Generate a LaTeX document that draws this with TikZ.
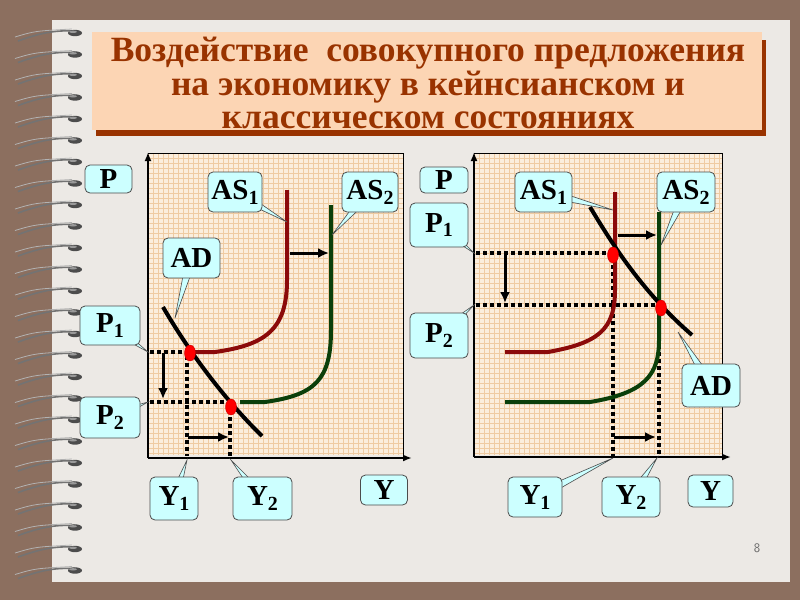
\documentclass[tikz,border=0pt]{standalone}
\usepackage{fontspec}
\setmainfont{Liberation Serif}[BoldFont=Liberation Serif Bold]
\newfontfamily\titlefont{Liberation Serif Bold}
\usetikzlibrary{calc,arrows.meta,shapes.geometric}
\definecolor{bgbrown}{HTML}{8C6F5F}
\definecolor{paper}{HTML}{ECE9E5}
\definecolor{peach}{HTML}{FCD5B4}
\definecolor{titlec}{HTML}{993300}
\definecolor{ascyan}{HTML}{CCFFFF}
\definecolor{asred}{HTML}{8B0A0A}
\definecolor{asgreen}{HTML}{0A3F0A}
\definecolor{gridbg}{HTML}{FBEEDD}
\definecolor{gridln}{HTML}{EFCBA2}
\tikzset{
 calloutbox/.style={draw=black!70,fill=ascyan,rounded corners=5pt,line width=0.8pt,inner sep=0pt,font=\fontsize{29}{29}\selectfont\bfseries},
 calloutptr/.style={draw=black!70,fill=ascyan,line width=0.6pt},
 dotline/.style={line width=3.6pt,dash pattern=on 3.5pt off 3.5pt},
 axisline/.style={line width=2.8pt,-{Latex[length=9pt,width=7pt]}},
 moveline/.style={line width=3pt,-{Latex[length=11pt,width=10pt]}},
 curve/.style={line width=4pt},
 eqpt/.style={fill=red,draw=red!80!black,minimum width=11pt,minimum height=16pt,ellipse,inner sep=0pt},
 gridlines/.style={gridln,line width=0.5pt},
}
% #1 name, #2 x1, #3 y1, #4 x2, #5 y2, #6 tip coordinate name, #7 text
\newcommand\mycallout[7]{%
 \coordinate (#1c) at ({(#2+#4)/2},{(#3+#5)/2});
 \filldraw[calloutptr] (#6) -- ($(#1c)!5pt!90:(#6)$) -- ($(#1c)!5pt!-90:(#6)$) -- cycle;
 \node[calloutbox,minimum width={#4-#2},minimum height={#5-#3}] (#1) at (#1c) {#7};
}
\newcommand\sub[1]{\raisebox{-5pt}{\fontsize{20}{20}\selectfont\bfseries #1}}
% grid helper: #1 x1 #2 y1 #3 x2 #4 y2
\newcommand\mygrid[4]{%
 \fill[gridbg] (#1,#2) rectangle (#3,#4);
 \foreach \gx in {#1,...,#3}{\pgfmathparse{mod(\gx-#1,5)==0}\ifnum\pgfmathresult=1 \draw[gridlines] (\gx,#2) -- (\gx,#4);\fi}
 \foreach \gy in {#2,...,#4}{\pgfmathparse{mod(\gy-#2,5)==0}\ifnum\pgfmathresult=1 \draw[gridlines] (#1,\gy) -- (#3,\gy);\fi}
}
\begin{document}
\begin{tikzpicture}[x=1pt,y=-1pt]
\useasboundingbox (0,0) rectangle (800,600);
\fill[bgbrown] (0,0) rectangle (800,600);
\fill[paper] (52,20) rectangle (790,582);
% spiral rings
\foreach \i in {0,...,25}{
 \pgfmathsetmacro{\yy}{33+21.5*\i}
 \draw[black!55,line width=1.6pt] (18,\yy+8) .. controls (40,\yy) and (55,\yy-3) .. (75,\yy-2);
 \draw[white!70!black,line width=0.8pt] (15,\yy+4) .. controls (35,\yy-2) .. (72,\yy-4);
 \fill[black!70] (75,\yy) ellipse (7pt and 3.2pt);
 \fill[white!60!black] (73,\yy-1.2) ellipse (4pt and 1.2pt);
}
% title
\fill[titlec] (96,40) rectangle (766,136);
\fill[peach] (92,32) rectangle (762,130);
\node[text=titlec,font=\titlefont\fontsize{35.5}{33.5}\selectfont,align=center] (title) at (428,83)
 {Воздействие\ \ совокупного предложения\\на экономику в кейнсианском и\\классическом состояниях};
% ---------- left graph ----------
\mygrid{148}{153}{403}{455}
\draw[black,line width=0.8pt] (148,153) -- (403,153) -- (403,458);
\coordinate (L0) at (148,458);
\coordinate (Ltop) at (148,152);
\coordinate (Lright) at (412,458);
\draw[axisline] (L0) -- (Ltop);
\draw[axisline] (L0) -- (Lright);
\draw[dotline] (150,352) -- (190,352);
\draw[dotline] (150,402) -- (231,402);
\draw[dotline] (187,356) -- (187,456);
\draw[dotline] (230,410) -- (230,456);
\draw[curve,asred] (190,352) -- (215,352) .. controls (265,345) and (287,330) .. (287,280) -- (287,190);
\draw[curve,asgreen] (240,402) -- (265,402) .. controls (315,395) and (331,380) .. (331,330) -- (331,205);
\draw[curve,black] (163,307) .. controls (185,345) and (220,395) .. (262,436);
\node[eqpt] (LE1) at (190,353) {};
\node[eqpt] (LE2) at (231,407) {};
\coordinate (La1) at (163,353); \coordinate (La2) at (163,399);
\draw[moveline] (La1) -- (La2);
\coordinate (Lb1) at (188,437); \coordinate (Lb2) at (229,437);
\draw[moveline] (Lb1) -- (Lb2);
\coordinate (Lc1) at (290,253); \coordinate (Lc2) at (329,253);
\draw[moveline] (Lc1) -- (Lc2);
\coordinate (tAS1) at (287,222);
\coordinate (tAS2) at (332,235);
\coordinate (tAD) at (175,318);
\coordinate (tP1) at (148,352);
\coordinate (tP2) at (148,402);
\coordinate (tY1) at (187,460);
\coordinate (tY2) at (231,460);
\node[calloutbox,minimum width=47,minimum height=28] (LP) at (108.5,179) {P};
\mycallout{LAS1}{208}{172}{262}{212}{tAS1}{AS\sub{1}}
\mycallout{LAS2}{342}{172}{398}{212}{tAS2}{AS\sub{2}}
\mycallout{LAD}{163}{238}{220}{278}{tAD}{AD}
\mycallout{LP1}{80}{306}{140}{345}{tP1}{P\sub{1}}
\mycallout{LP2}{80}{397}{140}{438}{tP2}{P\sub{2}}
\mycallout{LY1}{150}{477}{198}{520}{tY1}{Y\sub{1}}
\mycallout{LY2}{233}{477}{292}{520}{tY2}{Y\sub{2}}
\node[calloutbox,minimum width=47,minimum height=30] (LY) at (384,490) {Y};
% ---------- right graph ----------
\mygrid{474}{153}{722}{455}
\draw[black,line width=0.8pt] (474,153) -- (722,153) -- (722,457);
\coordinate (R0) at (474,457);
\coordinate (Rtop) at (474,152);
\coordinate (Rright) at (731,457);
\draw[axisline] (R0) -- (Rtop);
\draw[axisline] (R0) -- (Rright);
\draw[dotline] (476,253) -- (613,253);
\draw[dotline] (476,305) -- (661,305);
\draw[dotline] (613,258) -- (613,456);
\draw[dotline] (659,310) -- (659,456);
\draw[curve,asred] (505,352) -- (548,352) .. controls (598,343) and (615,330) .. (615,290) -- (615,192);
\draw[curve,asgreen] (505,402) -- (590,402) .. controls (645,393) and (659,375) .. (659,340) -- (659,212);
\draw[curve,black] (590,207) .. controls (610,240) and (640,290) .. (692,335);
\node[eqpt] (RE1) at (613,255) {};
\node[eqpt] (RE2) at (661,308) {};
\coordinate (Ra1) at (505,254); \coordinate (Ra2) at (505,303);
\draw[moveline] (Ra1) -- (Ra2);
\coordinate (Rb1) at (618,235); \coordinate (Rb2) at (657,235);
\draw[moveline] (Rb1) -- (Rb2);
\coordinate (Rc1) at (614,437); \coordinate (Rc2) at (656,437);
\draw[moveline] (Rc1) -- (Rc2);
\coordinate (uAS1) at (613,210);
\coordinate (uAS2) at (661,245);
\coordinate (uAD) at (678,332);
\coordinate (uP1) at (474,253);
\coordinate (uP2) at (474,305);
\coordinate (uY1) at (613,458);
\coordinate (uY2) at (657,458);
\node[calloutbox,minimum width=48,minimum height=26] (RP) at (444,180) {P};
\mycallout{RAS1}{515}{172}{572}{212}{uAS1}{AS\sub{1}}
\mycallout{RAS2}{657}{172}{715}{212}{uAS2}{AS\sub{2}}
\mycallout{RP1}{410}{203}{468}{247}{uP1}{P\sub{1}}
\mycallout{RP2}{410}{313}{468}{358}{uP2}{P\sub{2}}
\mycallout{RAD}{682}{364}{740}{407}{uAD}{AD}
\mycallout{RY1}{508}{477}{562}{517}{uY1}{Y\sub{1}}
\mycallout{RY2}{602}{477}{660}{517}{uY2}{Y\sub{2}}
\node[calloutbox,minimum width=45,minimum height=32] (RY) at (710.5,491) {Y};
\node[text=black!60,font=\fontsize{13}{13}\selectfont\sffamily] (pg) at (757,548) {8};
\end{tikzpicture}
\end{document}
